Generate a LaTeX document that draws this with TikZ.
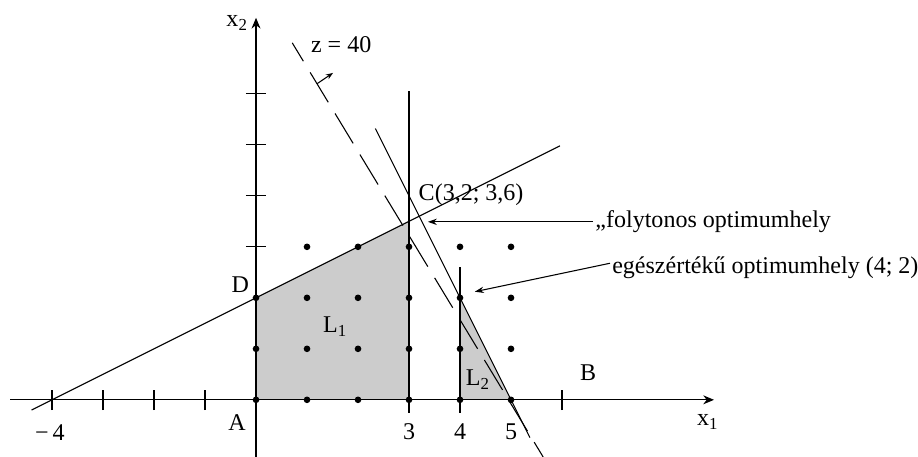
\documentclass[tikz,border=0pt]{standalone}
\usepackage{fontspec}
\setmainfont{Liberation Serif}
\usetikzlibrary{arrows.meta}
\definecolor{RegionGray}{HTML}{CCCCCC}

\begin{document}
\begin{tikzpicture}[x=1cm, y=1cm, line width=0.6pt,
  every node/.style={font=\fontsize{13.4}{15}\selectfont, inner sep=0pt},
  axis/.style={-{Stealth[length=6pt,width=5pt]}},
  callout/.style={-{Stealth[length=5pt,width=3.5pt]}},
  objective/.style={dash pattern=on 19.5pt off 7.3pt, dash phase=7.5pt}]
  \useasboundingbox (-5.02,-1.12) rectangle (12.98,7.84);
  % feasible subregions
  \fill[RegionGray] (0,0) -- (0,2) -- (3,3.5) -- (3,0) -- cycle;
  \fill[RegionGray] (4,0) -- (4,2) -- (5,0) -- cycle;
  % axes
  \draw[axis] (-4.82,0) -- (8.98,0);
  \draw[axis] (0,-1.12) -- (0,7.49);
  \foreach \x in {-4,-3,-2,-1,6}
    \draw (\x,-0.2) -- (\x,0.2);
  \foreach \y in {3,4,5,6}
    \draw (-0.2,\y) -- (0.2,\y);
  % constraints and branching lines
  \draw (-4.4,-0.2) -- (5.96,4.98);
  \draw (2.34,5.32) -- (5.37,-0.74);
  \draw (3,-0.25) -- (3,6.05);
  \draw (4,-0.25) -- (4,2.6);
  % objective line z = 40
  \draw[objective] (0.71,7.0) -- (5.63,-1.12);
  \draw[-{Stealth[length=4pt,width=3pt]}] (1.2,6.2) -- (1.51,6.41);
  % lattice points
  \foreach \y in {0,1,2}
    \foreach \x in {0,...,5}
      \fill (\x,\y) circle (0.065);
  \foreach \x in {1,...,5}
    \fill (\x,3) circle (0.065);
  % labels
  \node (xtwo) at (-0.37,7.39) {x\textsubscript{2}};
  \node (xone) at (8.86,-0.43) {x\textsubscript{1}};
  \node (zval) at (1.67,6.96) {z = 40};
  \node[anchor=west] (Cpt) at (3.18,4.02) {C(3,2; 3,6)};
  \node (Dpt) at (-0.31,2.25) {D};
  \node (Apt) at (-0.37,-0.45) {A};
  \node (Bpt) at (6.51,0.53) {B};
  \node (mfour) at (-4.04,-0.65) {−\,4};
  \node (tthree) at (3,-0.63) {3};
  \node (tfour) at (4,-0.63) {4};
  \node (tfive) at (5,-0.63) {5};
  \node (Lone) at (1.55,1.43) {L\textsubscript{1}};
  \node (Ltwo) at (4.35,0.39) {L\textsubscript{2}};
  \node[anchor=west, inner sep=1pt] (contopt) at (6.61,3.49) {„folytonos optimumhely};
  \node[anchor=west, inner sep=1pt] (intopt) at (6.94,2.59) {egészértékű optimumhely (4; 2)};
  \coordinate (Cmark) at (3.37,3.49);
  \coordinate (intmark) at (4.29,2.12);
  % callouts
  \draw[callout] (contopt.west) -- (Cmark);
  \draw[callout] ([yshift=2.5pt]intopt.west) -- (intmark);
\end{tikzpicture}
\end{document}
